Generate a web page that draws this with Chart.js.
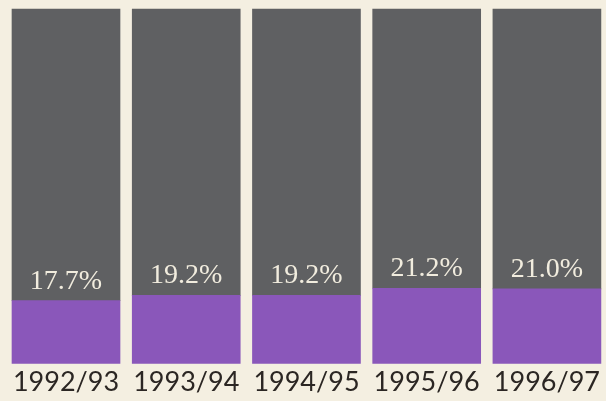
<!DOCTYPE html>
<html>
<head>
<meta charset="utf-8">
<script src="https://cdn.jsdelivr.net/npm/chart.js@4"></script>
<style>
  html, body { margin: 0; padding: 0; background: #f4efe1; }
  #wrap { width: 606px; height: 401px; }
</style>
</head>
<body>
<div id="wrap"><canvas id="shareChart" width="606" height="401"></canvas></div>
<script>
// values
const years = ['1992/93', '1993/94', '1994/95', '1995/96', '1996/97'];
const shares = [17.7, 19.2, 19.2, 21.2, 21.0];
const remainder = [82.3, 80.8, 80.8, 78.8, 79.0];

const purple = '#8a57ba';
const grey = '#5f6062';

// percentage labels sitting just above the purple part
const shareLabels = {
    id: 'shareLabels',
    afterDatasetsDraw(chart) {
        const ctx = chart.ctx;
        const meta = chart.getDatasetMeta(0);
        ctx.save();
        ctx.font = '28px "Liberation Serif", serif';
        ctx.fillStyle = '#f1ecde';
        ctx.textAlign = 'center';
        ctx.textBaseline = 'alphabetic';
        meta.data.forEach((bar, i) => {
            ctx.fillText(shares[i].toFixed(1) + '%', bar.x, bar.y - 12);
        });
        ctx.restore();
    }
};

const ctx = document.getElementById('shareChart').getContext('2d');
const shareChart = new Chart(ctx, {
    type: 'bar',
    data: {
        labels: years,
        datasets: [{
            label: 'Share',
            data: shares,
            backgroundColor: purple,
            barThickness: 108,
            clip: false
        }, {
            label: 'Rest',
            data: remainder,
            backgroundColor: grey,
            barThickness: 108,
            clip: false
        }]
    },
    options: {
        responsive: false,
        animation: false,
        layout: { padding: { top: 9, bottom: 0, left: 66, right: 55 } },
        plugins: {
            legend: { display: false },
            tooltip: { enabled: false }
        },
        scales: {
            x: {
                stacked: true,
                offset: false,
                grid: { display: false, drawTicks: false, offset: false },
                border: { display: false },
                ticks: {
                    autoSkip: false,
                    maxRotation: 0,
                    padding: 6,
                    color: '#2b2623',
                    font: { family: 'Lato', size: 27, lineHeight: 0.95 }
                }
            },
            y: {
                stacked: true,
                display: false,
                min: 0,
                max: 100
            }
        }
    },
    plugins: [shareLabels]
});
</script>
</body>
</html>
